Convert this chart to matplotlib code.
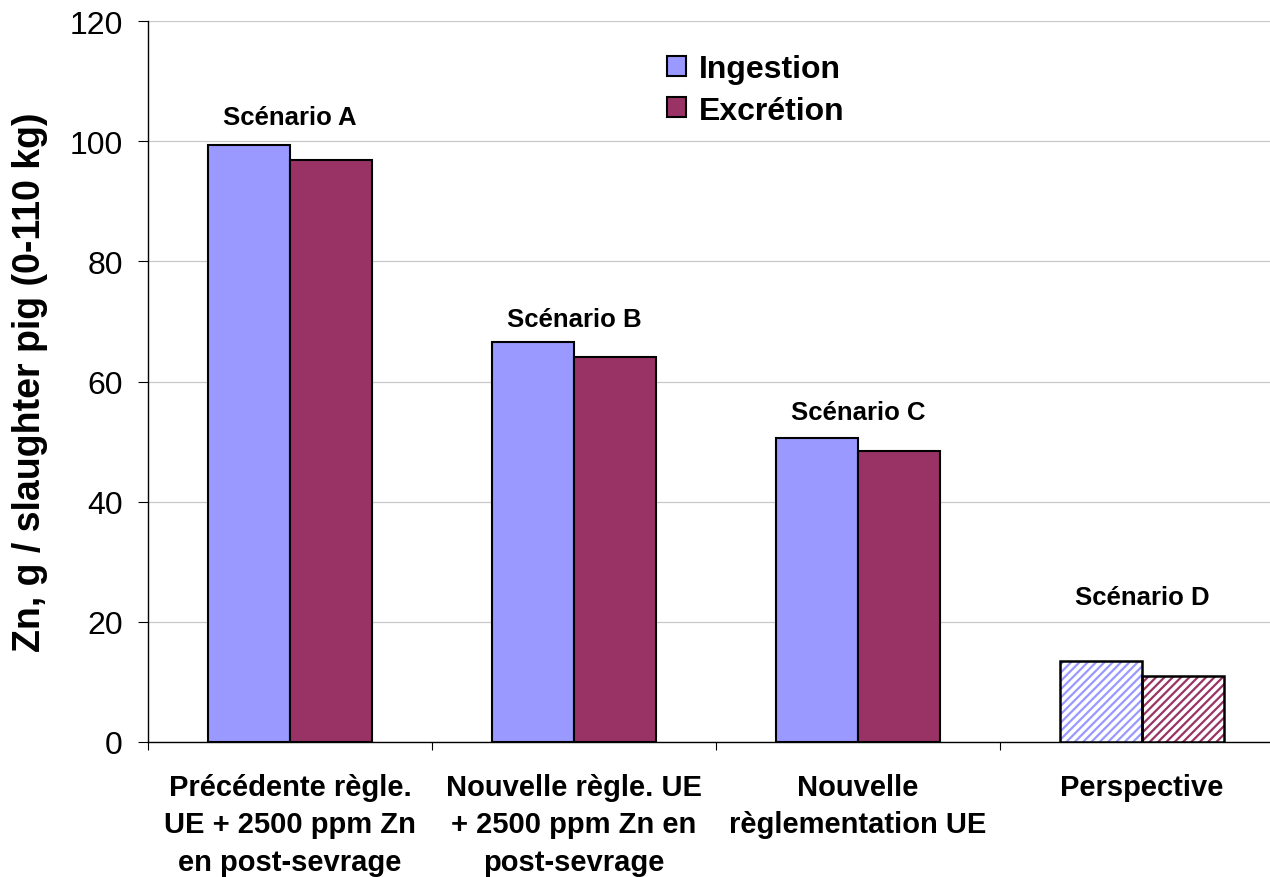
import matplotlib.pyplot as plt
import numpy as np

# --- data ---
categories = [
    "Précédente règle.\nUE + 2500 ppm Zn\nen post-sevrage",
    "Nouvelle règle. UE\n+ 2500 ppm Zn en\npost-sevrage",
    "Nouvelle\nrèglementation UE",
    "Perspective",
]
scenarios = ["Scénario A", "Scénario B", "Scénario C", "Scénario D"]
ingestion = [99.4, 66.6, 50.6, 13.5]
excretion = [96.9, 64.1, 48.4, 11.0]
label_y = [104.0, 70.4, 54.9, 24.1]

c_ing = "#9999FF"
c_exc = "#993366"

plt.rcParams["font.family"] = ["Liberation Sans", "DejaVu Sans"]
plt.rcParams["hatch.linewidth"] = 1.6

fig = plt.figure(figsize=(12.7, 8.78), dpi=100)
ax = fig.add_axes([148 / 1270, 1 - 743 / 878, 1 - 148 / 1270, (743 - 22) / 878])

x = np.arange(len(categories))
w = 0.289

for i in range(len(categories)):
    if i < 3:
        ax.bar(x[i] - w / 2, ingestion[i], w, color=c_ing, edgecolor="black", linewidth=1.5, zorder=3)
        ax.bar(x[i] + w / 2, excretion[i], w, color=c_exc, edgecolor="black", linewidth=1.5, zorder=3)
    else:
        # hatched "perspective" bars
        ax.bar(x[i] - w / 2, ingestion[i], w, color="white", edgecolor=c_ing, hatch="////", linewidth=0, zorder=3)
        ax.bar(x[i] + w / 2, excretion[i], w, color="white", edgecolor=c_exc, hatch="////", linewidth=0, zorder=3)
        ax.bar(x[i] - w / 2, ingestion[i], w, fill=False, edgecolor="black", linewidth=1.8, zorder=4)
        ax.bar(x[i] + w / 2, excretion[i], w, fill=False, edgecolor="black", linewidth=1.8, zorder=4)
    ax.text(x[i], label_y[i], scenarios[i], ha="center", va="center",
            fontsize=18.5, fontweight="bold")

ax.set_xlim(-0.5, -0.5 + 1122 / 284)
ax.set_ylim(0, 120)
ax.set_yticks(np.arange(0, 121, 20))
ax.tick_params(axis="y", labelsize=23, length=7, direction="out", pad=11)
ax.yaxis.grid(True, color="#c8c8c8", linewidth=0.9, zorder=0)
ax.set_axisbelow(True)

# category boundary ticks on x axis, labels in the middle
ax.set_xticks(np.arange(-0.5, 3.5, 1.0))
ax.set_xticklabels([])
ax.tick_params(axis="x", length=6, direction="out")
ax.set_xticks(x, minor=True)
ax.set_xticklabels(categories, minor=True, fontsize=21, fontweight="bold", linespacing=1.45)
ax.tick_params(axis="x", which="minor", length=0, pad=22)

for s in ["top", "right"]:
    ax.spines[s].set_visible(False)
ax.spines["left"].set_linewidth(1.0)
ax.spines["bottom"].set_linewidth(1.0)

ax.set_ylabel("Zn, g / slaughter pig (0-110 kg)", fontsize=27, fontweight="bold")
ax.yaxis.set_label_coords(-100 / 1122, 0.5)

handles = [
    plt.Rectangle((0, 0), 1, 1, facecolor=c_ing, edgecolor="black", linewidth=1.5),
    plt.Rectangle((0, 0), 1, 1, facecolor=c_exc, edgecolor="black", linewidth=1.5),
]
fig.legend(handles, ["Ingestion", "Excrétion"], loc="upper left",
           bbox_to_anchor=(645 / 1270, 1 - 33 / 878), frameon=False,
           prop={"size": 23, "weight": "bold"}, handlelength=0.58, handleheight=0.58,
           handletextpad=0.42, labelspacing=0.35, borderpad=0.2)

fig.savefig("out.png", dpi=100)
